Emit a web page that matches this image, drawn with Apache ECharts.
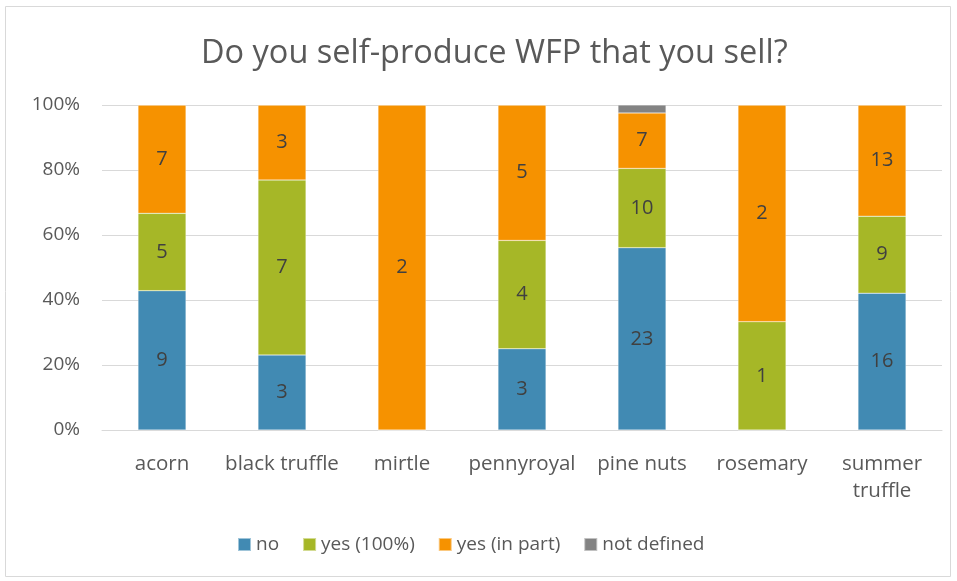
<!DOCTYPE html>
<html><head><meta charset="utf-8">
<script src="https://cdn.jsdelivr.net/npm/echarts@6/dist/echarts.min.js"></script>
<style>html,body{margin:0;padding:0;background:#fff}#c{width:957px;height:581px}</style>
</head><body><div id="c"></div>
<script>
const categories = ['acorn','black truffle','mirtle','pennyroyal','pine nuts','rosemary','summer\ntruffle'];
const seriesNames = ['no','yes (100%)','yes (in part)','not defined'];
const no = [9,3,0,3,23,0,16];
const yes100 = [5,7,0,4,10,1,9];
const yesPart = [7,3,2,5,7,2,13];
const notDefined = [0,0,0,0,1,0,0];
const yTicks = ['0%','20%','40%','60%','80%','100%'];
const colors = ['#418AB3','#A6B727','#F69200','#838383'];

const counts = [no, yes100, yesPart, notDefined];
const totals = categories.map((_, i) => counts.reduce((s, a) => s + a[i], 0));
const font = 'Open Sans, sans-serif';

const chart = echarts.init(document.getElementById('c'));
chart.setOption({
  animation: false,
  title: {
    text: 'Do you self-produce WFP that you sell?',
    left: 196, top: 32,
    textStyle: {fontFamily: font, fontSize: 32.5, fontWeight: 'normal', color: '#595959'}
  },
  graphic: [{type: 'rect', shape: {x: 5.5, y: 6.5, width: 945, height: 570},
    style: {fill: 'none', stroke: '#D9D9D9', lineWidth: 1}, silent: true}],
  legend: {
    bottom: 22, left: 232, itemWidth: 13, itemHeight: 13, itemGap: 23,
    icon: 'rect',
    textStyle: {fontFamily: font, fontSize: 19, color: '#595959'},
    data: seriesNames
  },
  grid: {left: 102, right: 15, top: 105, bottom: 151},
  xAxis: {
    type: 'category', data: categories,
    axisLine: {lineStyle: {color: '#D9D9D9', width: 1}},
    axisTick: {show: false},
    axisLabel: {interval: 0, fontFamily: font, fontSize: 20.5, color: '#595959', margin: 21, lineHeight: 27}
  },
  yAxis: {
    type: 'value', min: 0, max: 100, interval: 20,
    axisLine: {show: false}, axisTick: {show: false},
    splitLine: {lineStyle: {color: '#D9D9D9', width: 1}},
    axisLabel: {fontFamily: font, fontSize: 19, color: '#595959', margin: 22,
      formatter: v => yTicks[Math.round(v / 20)]}
  },
  series: counts.map((arr, k) => ({
    name: seriesNames[k], type: 'bar', stack: 'total', barWidth: 48,
    itemStyle: {color: colors[k], borderColor: 'rgba(255,255,255,0.5)', borderWidth: 0.5},
    label: {
      show: k < 3, position: 'inside', fontFamily: font, fontSize: 20, color: '#404040',
      formatter: p => arr[p.dataIndex] > 0 ? String(arr[p.dataIndex]) : ''
    },
    data: arr.map((v, i) => totals[i] ? v / totals[i] * 100 : 0)
  }))
});
</script></body></html>
